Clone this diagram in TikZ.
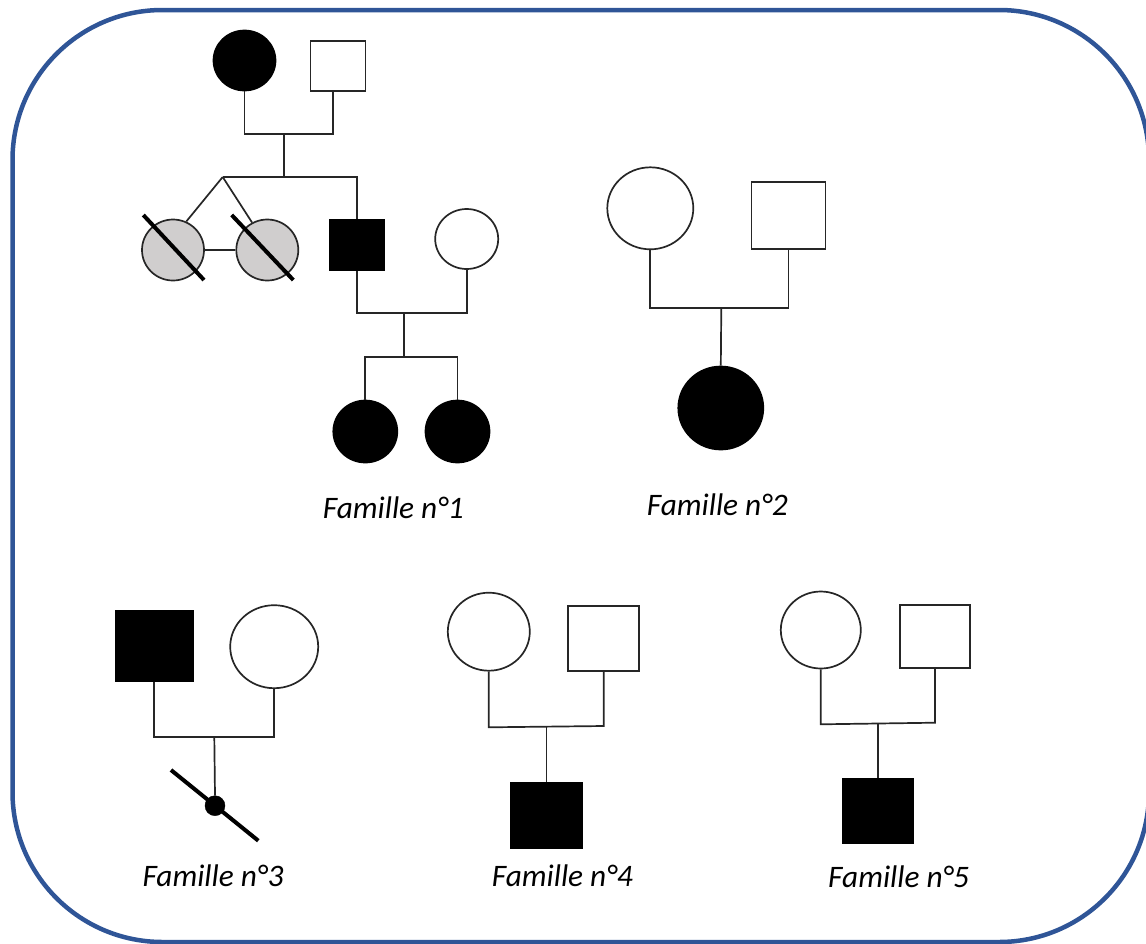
\documentclass[tikz,border=0pt]{standalone}
\usepackage{fontspec}
\setmainfont{Carlito}
\usetikzlibrary{shapes.geometric}
\definecolor{borderblue}{HTML}{2F5597}
\definecolor{twingray}{HTML}{D0CECE}
\begin{document}
\begin{tikzpicture}[x=1pt,y=-1pt,
  lnk/.style={draw=black!85, line width=1.7pt},
  fem/.style={ellipse, draw=black!85, line width=1.7pt, inner sep=0pt, fill=white},
  male/.style={rectangle, draw=black!85, line width=1.7pt, inner sep=0pt, fill=white},
  aff/.style={fill=black, draw=black},
  slash/.style={draw=black, line width=4pt},
  lbl/.style={anchor=base west, inner sep=0pt, font=\fontsize{31.3}{37}\selectfont\itshape}
]
\useasboundingbox (0,0) rectangle (1146,943);
\draw[borderblue, line width=4.5pt, rounded corners=150pt] (12.5,10) rectangle (1149,942);

% ---------- Famille 1 ----------
\node[fem,aff,minimum width=62pt,minimum height=60pt] (g1) at (244.5,60.5) {};
\node[male,minimum width=55pt,minimum height=50pt] (g2) at (338,66) {};
\node[fem,fill=twingray,minimum width=62pt,minimum height=61pt] (t1) at (173,250) {};
\node[fem,fill=twingray,minimum width=62pt,minimum height=61pt] (t2) at (267.3,250) {};
\node[male,aff,minimum width=55pt,minimum height=50pt] (s1) at (357,244.7) {};
\node[fem,minimum width=63pt,minimum height=60pt] (sp1) at (466.7,239) {};
\node[fem,aff,minimum width=64pt,minimum height=62pt] (d1) at (365.3,431.5) {};
\node[fem,aff,minimum width=64pt,minimum height=62pt] (d2) at (457.5,431.5) {};

\coordinate (c1) at (283.7,134);
\coordinate (sib1) at (283.7,177);
\coordinate (tw) at (222.7,177);
\draw[lnk] (g1.south) |- (c1) -| ([xshift=-5pt]g2.south);
\draw[lnk] (c1) -- (sib1);
\draw[lnk] (tw) -| (s1.north);
\draw[lnk] (tw) -- (t1.65);
\draw[lnk] (tw) -- (t2.119);
\draw[lnk] (t1.east) -- (t2.west);
\coordinate (t1a) at (143.3,215);
\coordinate (t1b) at (204,280);
\coordinate (t2a) at (231.7,215);
\coordinate (t2b) at (293.3,280);
\draw[slash] (t1a) -- (t1b);
\draw[slash] (t2a) -- (t2b);

\coordinate (c2) at (404.3,313);
\coordinate (sib2) at (404.3,357);
\draw[lnk] (s1.south) |- (c2) -| (sp1.south);
\draw[lnk] (c2) -- (sib2);
\draw[lnk] (d1.north) |- (sib2) -| (d2.north);
\node[lbl] (f1) at (322.7,518.3) {Famille n°1};

% ---------- Famille 2 ----------
\node[fem,minimum width=86pt,minimum height=82pt] (m2) at (650.3,208.3) {};
\node[male,minimum width=74pt,minimum height=67pt] (p2) at (788.5,215.7) {};
\node[fem,aff,minimum width=85pt,minimum height=83pt] (k2) at (720.8,408) {};
\coordinate (c3) at (721.3,307.7);
\draw[lnk] (m2.south) |- (c3) -| (p2.south);
\draw[lnk] (c3) -- (k2.north);
\node[lbl] (f2) at (646.7,515.7) {Famille n°2};

% ---------- Famille 3 ----------
\node[male,aff,minimum width=77pt,minimum height=70pt] (f3) at (154.3,645.8) {};
\node[fem,minimum width=88pt,minimum height=83pt] (m3) at (274.2,646.7) {};
\node[circle,aff,inner sep=0pt,minimum size=20pt] (k3) at (215,805.7) {};
\coordinate (c4) at (214.3,737);
\draw[lnk] (f3.south) |- (c4) -| (m3.south);
\draw[lnk] (c4) -- (k3.north);
\coordinate (k3a) at (171,770);
\coordinate (k3b) at (258.3,840.7);
\draw[slash] (k3a) -- (k3b);
\node[lbl] (f3l) at (142.3,886.7) {Famille n°3};

% ---------- Famille 4 ----------
\node[fem,minimum width=82pt,minimum height=78pt] (m4) at (488.8,631.7) {};
\node[male,minimum width=71pt,minimum height=65pt] (p4) at (603.8,638.3) {};
\node[male,aff,minimum width=72pt,minimum height=66pt] (k4) at (546.5,815.5) {};
\coordinate (cl4) at (488.8,727.3);
\coordinate (cr4) at (603.8,726);
\coordinate (c5) at (546.5,726.7);
\draw[lnk] (m4.south) -- (cl4) -- (cr4) -- (p4.south);
\draw[lnk] (c5) -- (k4.north);
\node[lbl] (f4) at (491.7,886) {Famille n°4};

% ---------- Famille 5 ----------
\node[fem,minimum width=80pt,minimum height=77pt] (m5) at (820.8,630) {};
\node[male,minimum width=70pt,minimum height=63pt] (p5) at (935,636.7) {};
\node[male,aff,minimum width=71pt,minimum height=64pt] (k5) at (878,810.8) {};
\coordinate (cl5) at (820.8,724.3);
\coordinate (cr5) at (935,722.7);
\coordinate (c6) at (878,723.5);
\draw[lnk] (m5.south) -- (cl5) -- (cr5) -- (p5.south);
\draw[lnk] (c6) -- (k5.north);
\node[lbl] (f5) at (828,887) {Famille n°5};
\end{tikzpicture}
\end{document}
